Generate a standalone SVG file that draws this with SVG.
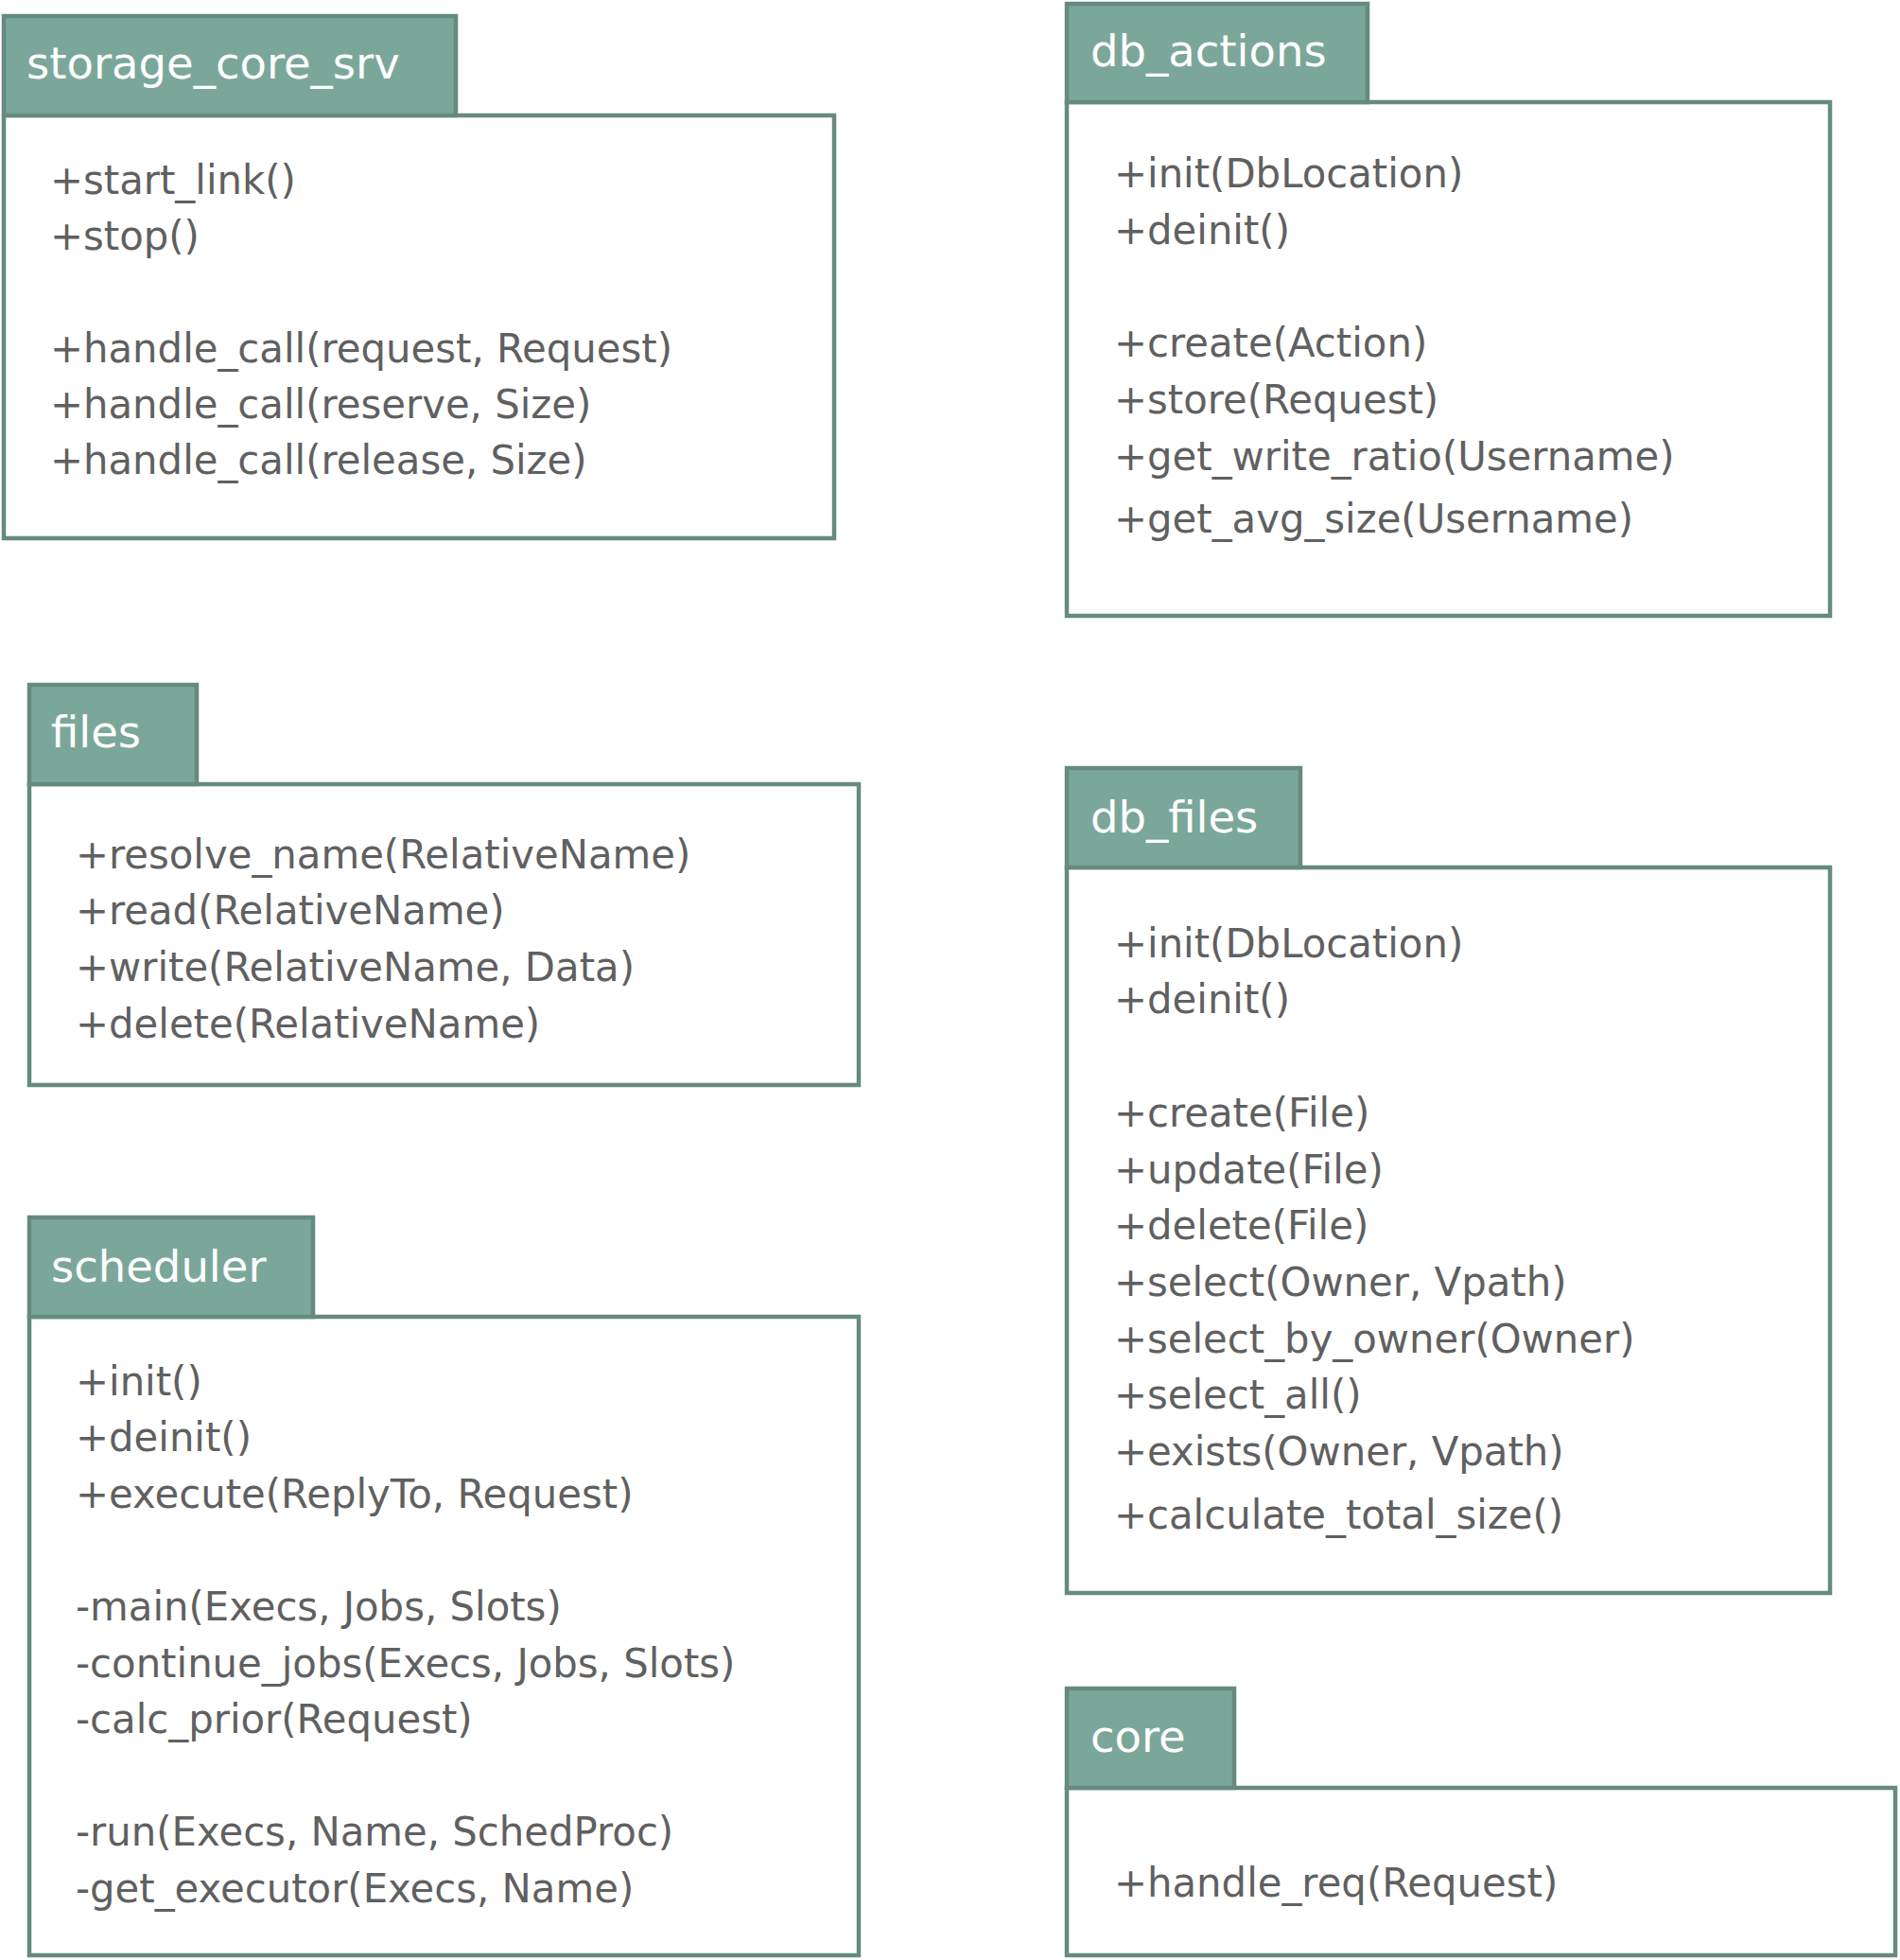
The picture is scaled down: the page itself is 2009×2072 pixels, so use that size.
<svg xmlns="http://www.w3.org/2000/svg" width="2009" height="2072" viewBox="0 0 2009 2072">
<style>
.tab{fill:#7BA79A;stroke:#668A80;stroke-width:4.5}
.box{fill:#FFFFFF;stroke:#668A80;stroke-width:4.5}
.title{font-family:"DejaVu Sans",sans-serif;font-size:46.5px;fill:#FFFFFF}
.m{font-family:"DejaVu Sans",sans-serif;font-size:41.8px;fill:#606060}
</style>
<rect width="2009" height="2072" fill="#FFFFFF"/>
<g id="connectors"></g>
<g id="storage_core_srv">
<rect class="box" x="4" y="122" width="878" height="447"/>
<rect class="tab" x="4" y="17" width="478" height="105"/>
<text class="title" x="28" y="83">storage_core_srv</text>
<text class="m" x="53" y="205">+start_link()</text>
<text class="m" x="53" y="264">+stop()</text>
<text class="m" x="53" y="383">+handle_call(request, Request)</text>
<text class="m" x="53" y="442">+handle_call(reserve, Size)</text>
<text class="m" x="53" y="501">+handle_call(release, Size)</text>
</g>
<g id="db_actions">
<rect class="box" x="1128" y="108" width="807" height="543"/>
<rect class="tab" x="1128" y="4" width="318" height="104"/>
<text class="title" x="1153" y="70">db_actions</text>
<text class="m" x="1178" y="198">+init(DbLocation)</text>
<text class="m" x="1178" y="258">+deinit()</text>
<text class="m" x="1178" y="377">+create(Action)</text>
<text class="m" x="1178" y="437">+store(Request)</text>
<text class="m" x="1178" y="497">+get_write_ratio(Username)</text>
<text class="m" x="1178" y="563">+get_avg_size(Username)</text>
</g>
<g id="files">
<rect class="box" x="31" y="829" width="877" height="318"/>
<rect class="tab" x="31" y="724" width="177" height="105"/>
<text class="title" x="54" y="790">files</text>
<text class="m" x="80" y="918">+resolve_name(RelativeName)</text>
<text class="m" x="80" y="977">+read(RelativeName)</text>
<text class="m" x="80" y="1037">+write(RelativeName, Data)</text>
<text class="m" x="80" y="1097">+delete(RelativeName)</text>
</g>
<g id="scheduler">
<rect class="box" x="31" y="1392" width="877" height="675"/>
<rect class="tab" x="31" y="1287" width="300" height="105"/>
<text class="title" x="54" y="1355">scheduler</text>
<text class="m" x="80" y="1475">+init()</text>
<text class="m" x="80" y="1534">+deinit()</text>
<text class="m" x="80" y="1594">+execute(ReplyTo, Request)</text>
<text class="m" x="80" y="1713">-main(Execs, Jobs, Slots)</text>
<text class="m" x="80" y="1773">-continue_jobs(Execs, Jobs, Slots)</text>
<text class="m" x="80" y="1832">-calc_prior(Request)</text>
<text class="m" x="80" y="1951">-run(Execs, Name, SchedProc)</text>
<text class="m" x="80" y="2011">-get_executor(Execs, Name)</text>
</g>
<g id="db_files">
<rect class="box" x="1128" y="917" width="807" height="767"/>
<rect class="tab" x="1128" y="812" width="247" height="105"/>
<text class="title" x="1153" y="880">db_files</text>
<text class="m" x="1178" y="1012">+init(DbLocation)</text>
<text class="m" x="1178" y="1071">+deinit()</text>
<text class="m" x="1178" y="1191">+create(File)</text>
<text class="m" x="1178" y="1251">+update(File)</text>
<text class="m" x="1178" y="1310">+delete(File)</text>
<text class="m" x="1178" y="1370">+select(Owner, Vpath)</text>
<text class="m" x="1178" y="1430">+select_by_owner(Owner)</text>
<text class="m" x="1178" y="1489">+select_all()</text>
<text class="m" x="1178" y="1549">+exists(Owner, Vpath)</text>
<text class="m" x="1178" y="1616">+calculate_total_size()</text>
</g>
<g id="core">
<rect class="box" x="1128" y="1890" width="876" height="177"/>
<rect class="tab" x="1128" y="1785" width="177" height="105"/>
<text class="title" x="1153" y="1852">core</text>
<text class="m" x="1178" y="2005">+handle_req(Request)</text>
</g>
</svg>
